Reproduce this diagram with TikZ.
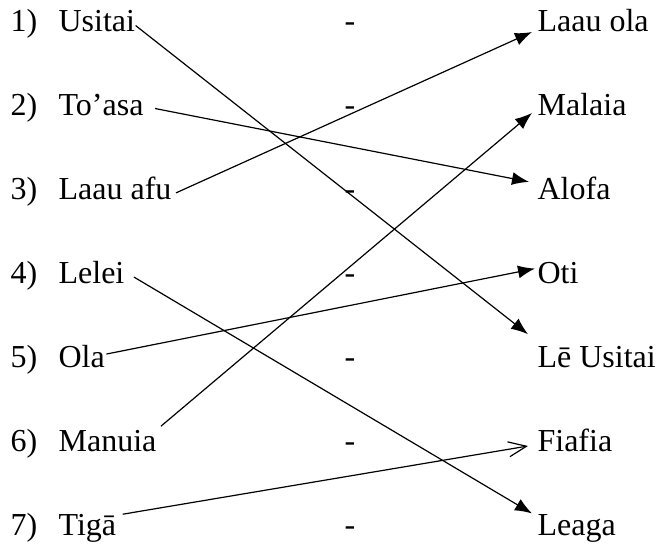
\documentclass[tikz,border=0pt]{standalone}
\usepackage{fontspec}
\setmainfont{Liberation Serif}
\usetikzlibrary{arrows.meta}

\begin{document}
\begin{tikzpicture}[x=1pt, y=-1pt, line width=1.2pt,
    word/.style = {anchor=base west, inner sep=0pt, font=\fontsize{32}{38}\selectfont},
    sep/.style = {word, anchor=base},
    match/.style = {-{Latex[length=17pt,width=13pt]}},
    openmatch/.style = {-{Straight Barb[length=18pt,width=15pt]}}]
      \useasboundingbox (0,0) rectangle (657,548);

      % left column
      \node[word] (n_1) at (10,32) {1)};
      \node[word] (l_1) at (58,32) {Usitai};
      \node[word] (n_2) at (10,116) {2)};
      \node[word] (l_2) at (58,116) {To’asa};
      \node[word] (n_3) at (10,200) {3)};
      \node[word] (l_3) at (58,200) {Laau afu};
      \node[word] (n_4) at (10,284) {4)};
      \node[word] (l_4) at (58,284) {Lelei};
      \node[word] (n_5) at (10,368) {5)};
      \node[word] (l_5) at (58,368) {Ola};
      \node[word] (n_6) at (10,452) {6)};
      \node[word] (l_6) at (58,452) {Manuia};
      \node[word] (n_7) at (10,536) {7)};
      \node[word] (l_7) at (58,536) {Tigā};

      % dashes
      \node[sep] (s_1) at (350,32) {-};
      \node[sep] (s_2) at (350,116) {-};
      \node[sep] (s_3) at (350,200) {-};
      \node[sep] (s_4) at (350,284) {-};
      \node[sep] (s_5) at (350,368) {-};
      \node[sep] (s_6) at (350,452) {-};
      \node[sep] (s_7) at (350,536) {-};

      % right column
      \node[word] (r_1) at (537,32) {Laau ola};
      \node[word] (r_2) at (537,116) {Malaia};
      \node[word] (r_3) at (537,200) {Alofa};
      \node[word] (r_4) at (537,284) {Oti};
      \node[word] (r_5) at (537,368) {Lē Usitai};
      \node[word] (r_6) at (537,452) {Fiafia};
      \node[word] (r_7) at (537,536) {Leaga};

      \draw[match] ([yshift=-4pt]l_1.east) -- ([shift={(-9pt,12pt)}]r_5.north west);
      \draw[match] ([shift={(11pt,-3pt)}]l_2.east) -- ([shift={(-8pt,-5pt)}]r_3.north west);
      \draw[match] ([shift={(4pt,-4pt)}]l_3.east) -- ([shift={(-5pt,0pt)}]r_1.base west);
      \draw[match] ([shift={(9pt,-4pt)}]l_4.east) -- ([shift={(-5pt,1pt)}]r_7.north west);
      \draw[match] ([shift={(1pt,3pt)}]l_5.east) -- ([shift={(-2pt,5pt)}]r_4.west);
      \draw[match] ([shift={(4pt,4pt)}]l_6.north east) -- ([shift={(-5pt,3pt)}]r_2.base west);
      \draw[openmatch] ([shift={(6pt,0pt)}]l_7.north east) -- ([shift={(-9pt,6pt)}]r_6.base west);
    \end{tikzpicture}
\end{document}
